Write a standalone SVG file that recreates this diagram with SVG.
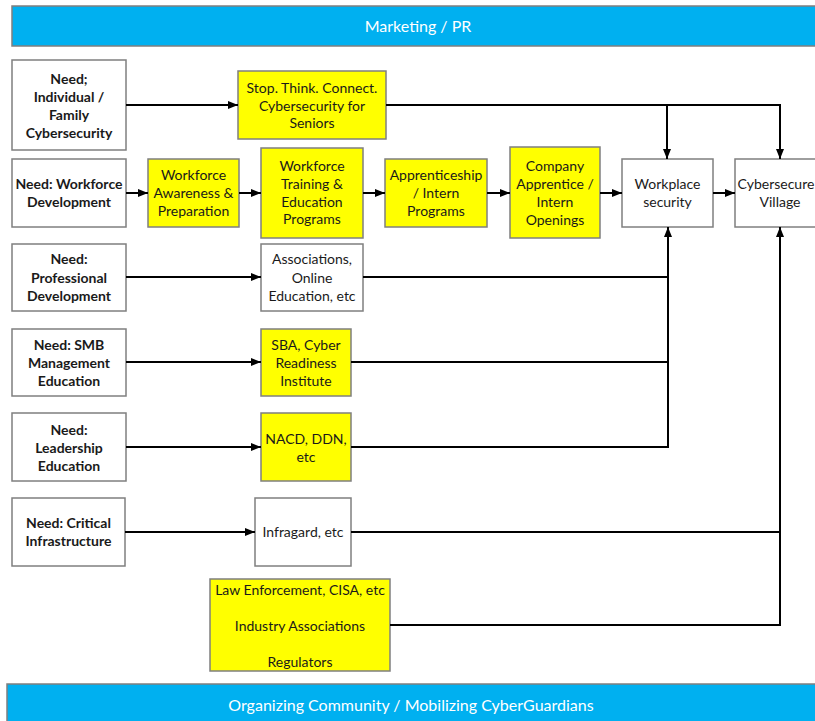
<svg xmlns="http://www.w3.org/2000/svg" width="815" height="721" viewBox="0 0 815 721">
<defs>
<marker id="arr" markerUnits="userSpaceOnUse" markerWidth="10" markerHeight="10" refX="10" refY="5" orient="auto">
<path d="M0,1 L10,5 L0,9 z" fill="#000"/>
</marker>
<style>
.box{stroke:#7f7f7f;stroke-width:1.5;fill:#fff}
.y{fill:#ffff00}
.ban{fill:#00b0f0;stroke:#7f7f7f;stroke-width:1.5}
.t{font-family:Lato,"Liberation Sans",sans-serif;font-size:14px;fill:#1a1a1a;text-anchor:middle;dominant-baseline:central;transform:translateY(-1px)}
.b{font-weight:bold}
.bt{font-family:Lato,"Liberation Sans",sans-serif;font-size:16px;fill:#fff;text-anchor:middle;dominant-baseline:central;transform:translateY(-1px)}
.c{fill:none;stroke:#000;stroke-width:2}
</style>
</defs>
<g id="banner-top"><rect class="ban" x="12" y="6" width="812" height="40"/><text class="bt" x="418" y="26">Marketing / PR</text></g>
<g id="banner-bottom"><rect class="ban" x="7" y="684" width="818" height="45"/><text class="bt" x="411" y="705">Organizing Community / Mobilizing CyberGuardians</text></g>

<g id="need-individual"><rect class="box" x="12" y="60" width="114" height="90"/>
<text class="t b" x="69" y="79">Need;</text><text class="t b" x="69" y="97">Individual /</text><text class="t b" x="69" y="115">Family</text><text class="t b" x="69" y="133">Cybersecurity</text></g>
<g id="stop-think"><rect class="box y" x="238" y="71" width="148" height="68"/>
<text class="t" x="312" y="88">Stop. Think. Connect.</text><text class="t" x="312" y="106">Cybersecurity for</text><text class="t" x="312" y="123">Seniors</text></g>

<g id="need-workforce"><rect class="box" x="12" y="159" width="114" height="68"/>
<text class="t b" x="69" y="184">Need: Workforce</text><text class="t b" x="69" y="202">Development</text></g>
<g id="workforce-awareness"><rect class="box y" x="148" y="159" width="91" height="68"/>
<text class="t" x="193.5" y="175">Workforce</text><text class="t" x="193.5" y="193">Awareness &amp;</text><text class="t" x="193.5" y="211">Preparation</text></g>
<g id="workforce-training"><rect class="box y" x="261" y="148" width="102" height="90"/>
<text class="t" x="312" y="166">Workforce</text><text class="t" x="312" y="184">Training &amp;</text><text class="t" x="312" y="202">Education</text><text class="t" x="312" y="219">Programs</text></g>
<g id="apprenticeship"><rect class="box y" x="385" y="159" width="102" height="68"/>
<text class="t" x="436" y="175">Apprenticeship</text><text class="t" x="436" y="193">/ Intern</text><text class="t" x="436" y="211">Programs</text></g>
<g id="company-apprentice"><rect class="box y" x="510" y="147" width="90" height="91"/>
<text class="t" x="555" y="166">Company</text><text class="t" x="555" y="184">Apprentice /</text><text class="t" x="555" y="202">Intern</text><text class="t" x="555" y="220">Openings</text></g>
<g id="workplace-security"><rect class="box" x="622" y="159" width="91" height="68"/>
<text class="t" x="667.5" y="184">Workplace</text><text class="t" x="667.5" y="202">security</text></g>
<g id="cybersecure-village"><rect class="box" x="735" y="159" width="90" height="68"/>
<text class="t" x="776" y="184">Cybersecure</text><text class="t" x="780" y="202">Village</text></g>

<g id="need-professional"><rect class="box" x="12" y="244" width="114" height="67"/>
<text class="t b" x="69" y="259">Need:</text><text class="t b" x="69" y="278">Professional</text><text class="t b" x="69" y="296">Development</text></g>
<g id="associations"><rect class="box" x="261" y="244" width="102" height="67"/>
<text class="t" x="312" y="259">Associations,</text><text class="t" x="312" y="278">Online</text><text class="t" x="312" y="296">Education, etc</text></g>

<g id="need-smb"><rect class="box" x="12" y="329" width="114" height="67"/>
<text class="t b" x="69" y="345">Need: SMB</text><text class="t b" x="69" y="363">Management</text><text class="t b" x="69" y="381">Education</text></g>
<g id="sba"><rect class="box y" x="261" y="329" width="90" height="67"/>
<text class="t" x="306" y="345">SBA, Cyber</text><text class="t" x="306" y="363">Readiness</text><text class="t" x="306" y="381">Institute</text></g>

<g id="need-leadership"><rect class="box" x="12" y="413" width="114" height="68"/>
<text class="t b" x="69" y="430">Need:</text><text class="t b" x="69" y="448">Leadership</text><text class="t b" x="69" y="466">Education</text></g>
<g id="nacd"><rect class="box y" x="261" y="413" width="90" height="68"/>
<text class="t" x="306" y="439">NACD, DDN,</text><text class="t" x="306" y="457">etc</text></g>

<g id="need-critical"><rect class="box" x="12" y="498" width="113" height="68"/>
<text class="t b" x="68.5" y="523">Need: Critical</text><text class="t b" x="68.5" y="541">Infrastructure</text></g>
<g id="infragard"><rect class="box" x="255" y="498" width="96" height="68"/>
<text class="t" x="303" y="532">Infragard, etc</text></g>

<g id="law-enforcement"><rect class="box y" x="210" y="579" width="180" height="92"/>
<text class="t" x="300" y="590">Law Enforcement, CISA, etc</text><text class="t" x="300" y="626">Industry Associations</text><text class="t" x="300" y="662">Regulators</text></g>

<g id="connectors">
<path class="c" d="M126,105 H238" marker-end="url(#arr)"/>
<path class="c" d="M386,105 H780 V159" marker-end="url(#arr)"/>
<path class="c" d="M667,105 V159" marker-end="url(#arr)"/>
<path class="c" d="M126,193 H148" marker-end="url(#arr)"/>
<path class="c" d="M239,193 H261" marker-end="url(#arr)"/>
<path class="c" d="M363,193 H385" marker-end="url(#arr)"/>
<path class="c" d="M487,193 H510" marker-end="url(#arr)"/>
<path class="c" d="M600,193 H622" marker-end="url(#arr)"/>
<path class="c" d="M713,193 H735" marker-end="url(#arr)"/>
<path class="c" d="M126,277 H261" marker-end="url(#arr)"/>
<path class="c" d="M126,362 H261" marker-end="url(#arr)"/>
<path class="c" d="M126,447 H261" marker-end="url(#arr)"/>
<path class="c" d="M125,532 H255" marker-end="url(#arr)"/>
<path class="c" d="M363,277 H668"/>
<path class="c" d="M351,362 H668"/>
<path class="c" d="M351,447 H668 V227" marker-end="url(#arr)"/>
<path class="c" d="M351,532 H780"/>
<path class="c" d="M390,625 H780 V227" marker-end="url(#arr)"/>
</g>
</svg>
